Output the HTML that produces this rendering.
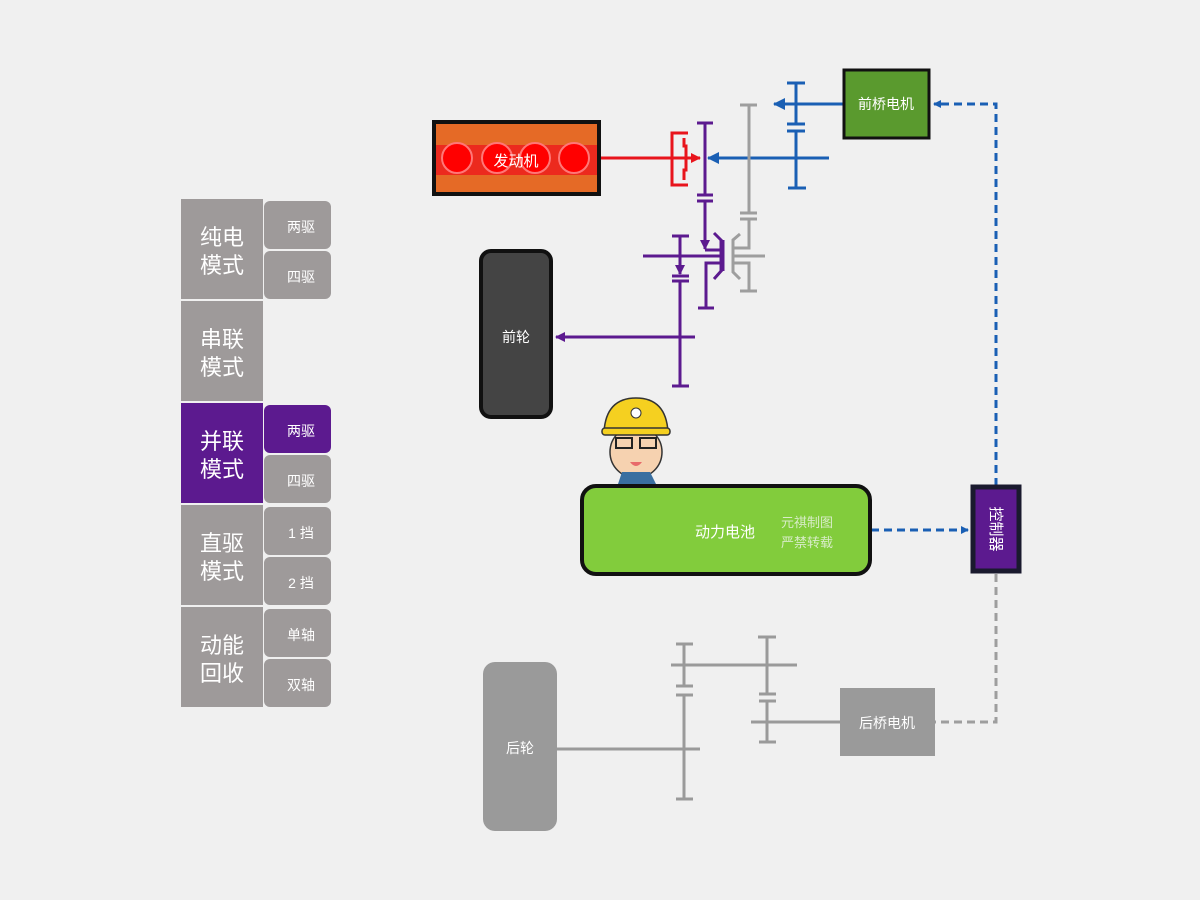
<!DOCTYPE html>
<html><head><meta charset="utf-8"><style>
body{margin:0;background:#f0f0f0;}
svg{display:block;font-family:"Liberation Sans","Noto Sans CJK SC",sans-serif;}
</style></head><body>
<svg width="1200" height="900" viewBox="0 0 1200 900">
<defs>
<marker id="ab" markerWidth="8" markerHeight="8" refX="7" refY="4" orient="auto" markerUnits="userSpaceOnUse"><path d="M0,0 L8,4 L0,8z" fill="#1a5fb4"/></marker>
<marker id="ap" markerWidth="10" markerHeight="10" refX="9" refY="5" orient="auto" markerUnits="userSpaceOnUse"><path d="M0,0 L10,5 L0,10z" fill="#5c1a8f"/></marker>
<marker id="ar" markerWidth="10" markerHeight="10" refX="9" refY="5" orient="auto" markerUnits="userSpaceOnUse"><path d="M0,0 L10,5 L0,10z" fill="#e8141c"/></marker>
<marker id="ab2" markerWidth="12" markerHeight="12" refX="11" refY="6" orient="auto" markerUnits="userSpaceOnUse"><path d="M0,0 L12,6 L0,12z" fill="#1a5fb4"/></marker>
</defs>
<rect width="1200" height="900" fill="#f0f0f0"/>

<g fill="#fff" font-size="22" text-anchor="middle">
<rect x="181" y="199" width="82" height="100" fill="#9e9a9a"/>
<text x="222" y="245">纯电</text><text x="222" y="273">模式</text>
<rect x="181" y="301" width="82" height="100" fill="#9e9a9a"/>
<text x="222" y="347">串联</text><text x="222" y="375">模式</text>
<rect x="181" y="403" width="82" height="100" fill="#5c1a8f"/>
<text x="222" y="449">并联</text><text x="222" y="477">模式</text>
<rect x="181" y="505" width="82" height="100" fill="#9e9a9a"/>
<text x="222" y="551">直驱</text><text x="222" y="579">模式</text>
<rect x="181" y="607" width="82" height="100" fill="#9e9a9a"/>
<text x="222" y="653">动能</text><text x="222" y="681">回收</text>
</g>
<g fill="#fff" font-size="14" text-anchor="middle">
<rect x="264" y="201" width="67" height="48" rx="6" fill="#9e9a9a"/><text x="301" y="232">两驱</text>
<rect x="264" y="251" width="67" height="48" rx="6" fill="#9e9a9a"/><text x="301" y="282">四驱</text>
<rect x="264" y="405" width="67" height="48" rx="6" fill="#5c1a8f"/><text x="301" y="436">两驱</text>
<rect x="264" y="455" width="67" height="48" rx="6" fill="#9e9a9a"/><text x="301" y="486">四驱</text>
<rect x="264" y="507" width="67" height="48" rx="6" fill="#9e9a9a"/><text x="301" y="538">1 挡</text>
<rect x="264" y="557" width="67" height="48" rx="6" fill="#9e9a9a"/><text x="301" y="588">2 挡</text>
<rect x="264" y="609" width="67" height="48" rx="6" fill="#9e9a9a"/><text x="301" y="640">单轴</text>
<rect x="264" y="659" width="67" height="48" rx="6" fill="#9e9a9a"/><text x="301" y="690">双轴</text>
</g>

<rect x="434" y="122" width="165" height="72" fill="#e56a26" stroke="#111" stroke-width="4"/>
<rect x="436" y="145" width="161" height="30" fill="#ec2a1e"/>
<g fill="#f00" stroke="#f77" stroke-width="2">
<circle cx="457" cy="158" r="15"/><circle cx="497" cy="158" r="15"/><circle cx="535" cy="158" r="15"/><circle cx="574" cy="158" r="15"/>
</g>
<text x="516" y="166" fill="#fff" font-size="15" text-anchor="middle">发动机</text>

<g stroke="#e8141c" stroke-width="3" fill="none">
<line x1="601" y1="158" x2="700" y2="158" marker-end="url(#ar)"/>
<path d="M688,133 H672 V185 H688"/>
<path d="M684,138 V146 H686 V170 H684 V180" stroke-width="3"/>
</g>

<g stroke="#1a5fb4" stroke-width="3" fill="none">
<line x1="829" y1="158" x2="708" y2="158" marker-end="url(#ab2)"/>
<line x1="843" y1="104" x2="774" y2="104" marker-end="url(#ab2)"/>
<line x1="796" y1="83" x2="796" y2="124"/><line x1="796" y1="131" x2="796" y2="188"/>
<line x1="787" y1="83" x2="805" y2="83"/><line x1="787" y1="124" x2="805" y2="124"/><line x1="787" y1="131" x2="805" y2="131"/><line x1="788" y1="188" x2="806" y2="188"/>
</g>

<g stroke="#9e9e9e" stroke-width="3" fill="none">
<line x1="740" y1="105" x2="757" y2="105"/>
<line x1="749" y1="105" x2="749" y2="213"/>
<line x1="740" y1="213" x2="757" y2="213"/><line x1="740" y1="219" x2="757" y2="219"/>
<path d="M749,219 V248 H733"/>
<path d="M740,234 L733,240 V272 L740,279"/>
<line x1="733" y1="256" x2="765" y2="256"/>
<path d="M733,263 H749 V291"/>
<line x1="740" y1="291" x2="757" y2="291"/>
</g>

<g stroke="#5c1a8f" stroke-width="3" fill="none">
<line x1="697" y1="123" x2="713" y2="123"/>
<line x1="705" y1="123" x2="705" y2="195"/>
<line x1="697" y1="195" x2="713" y2="195"/><line x1="697" y1="201" x2="713" y2="201"/>
<line x1="705" y1="201" x2="705" y2="249" marker-end="url(#ap)"/>
<line x1="705" y1="250" x2="722" y2="250"/>
<line x1="643" y1="256" x2="722" y2="256"/>
<line x1="722" y1="240" x2="722" y2="271" stroke-width="5"/>
<path d="M714,233 L722,241 M714,279 L722,270"/>
<path d="M722,263 H706 V308"/>
<line x1="698" y1="308" x2="714" y2="308"/>
<line x1="672" y1="236" x2="689" y2="236"/>
<line x1="680" y1="236" x2="680" y2="274" marker-end="url(#ap)"/>
<line x1="672" y1="276" x2="689" y2="276"/><line x1="672" y1="281" x2="689" y2="281"/>
<line x1="680" y1="281" x2="680" y2="386"/>
<line x1="672" y1="386" x2="689" y2="386"/>
<line x1="695" y1="337" x2="556" y2="337" marker-end="url(#ap)"/>
</g>

<rect x="481" y="251" width="70" height="166" rx="10" fill="#444" stroke="#111" stroke-width="4"/>
<text x="516" y="342" fill="#fff" font-size="14" text-anchor="middle">前轮</text>

<rect x="844" y="70" width="85" height="68" fill="#5a9a2e" stroke="#111" stroke-width="3"/>
<text x="886" y="109" fill="#fff" font-size="14" text-anchor="middle">前桥电机</text>

<path d="M996,486 V104 H934" stroke="#1a5fb4" stroke-width="3" stroke-dasharray="8,5" fill="none" marker-end="url(#ab)"/>
<line x1="871" y1="530" x2="968" y2="530" stroke="#1a5fb4" stroke-width="3" stroke-dasharray="8,5" marker-end="url(#ab)"/>
<path d="M996,574 V722 H935" stroke="#9e9e9e" stroke-width="3" stroke-dasharray="8,5" fill="none"/>

<rect x="582" y="486" width="288" height="88" rx="14" fill="#82cc3c" stroke="#111" stroke-width="4"/>
<text x="725" y="537" fill="#fff" font-size="15" text-anchor="middle">动力电池</text>
<text x="807" y="527" fill="#d8ecc8" font-size="13" text-anchor="middle">元祺制图</text>
<text x="807" y="547" fill="#d8ecc8" font-size="13" text-anchor="middle">严禁转载</text>

<rect x="973" y="487" width="46" height="84" fill="#5c1a8f" stroke="#1a1a2e" stroke-width="5"/>
<text x="0" y="0" fill="#fff" font-size="15" text-anchor="middle" transform="translate(991,529) rotate(90)">控制器</text>

<g>
<ellipse cx="636" cy="452" rx="26" ry="26" fill="#f6d2b0" stroke="#333" stroke-width="1.5"/>
<path d="M604,432 Q606,398 636,398 Q666,398 668,432 Z" fill="#f5d020" stroke="#333" stroke-width="1.5"/>
<rect x="602" y="428" width="68" height="7" rx="3" fill="#f5d020" stroke="#333" stroke-width="1.5"/>
<circle cx="636" cy="413" r="5" fill="#fff" stroke="#333"/>
<rect x="616" y="438" width="16" height="10" fill="none" stroke="#222" stroke-width="2"/>
<rect x="640" y="438" width="16" height="10" fill="none" stroke="#222" stroke-width="2"/>
<path d="M630,462 Q636,470 642,462 Z" fill="#e86a6a"/>
<path d="M618,484 L622,472 L650,472 L656,484 Z" fill="#3a6fa0"/>
</g>

<rect x="483" y="662" width="74" height="169" rx="12" fill="#9a9a9a"/>
<text x="520" y="753" fill="#fff" font-size="14" text-anchor="middle">后轮</text>
<g stroke="#9a9a9a" stroke-width="3" fill="none">
<line x1="557" y1="749" x2="700" y2="749"/>
<line x1="676" y1="644" x2="693" y2="644"/>
<line x1="684" y1="644" x2="684" y2="686"/>
<line x1="676" y1="686" x2="693" y2="686"/><line x1="676" y1="695" x2="693" y2="695"/>
<line x1="684" y1="695" x2="684" y2="799"/>
<line x1="676" y1="799" x2="693" y2="799"/>
<line x1="671" y1="665" x2="797" y2="665"/>
<line x1="758" y1="637" x2="776" y2="637"/>
<line x1="767" y1="637" x2="767" y2="694"/>
<line x1="759" y1="694" x2="776" y2="694"/><line x1="759" y1="701" x2="776" y2="701"/>
<line x1="767" y1="701" x2="767" y2="742"/>
<line x1="759" y1="742" x2="776" y2="742"/>
<line x1="751" y1="722" x2="840" y2="722"/>
</g>
<rect x="840" y="688" width="95" height="68" fill="#9a9a9a"/>
<text x="887" y="728" fill="#fff" font-size="14" text-anchor="middle">后桥电机</text>
</svg>
</body></html>
